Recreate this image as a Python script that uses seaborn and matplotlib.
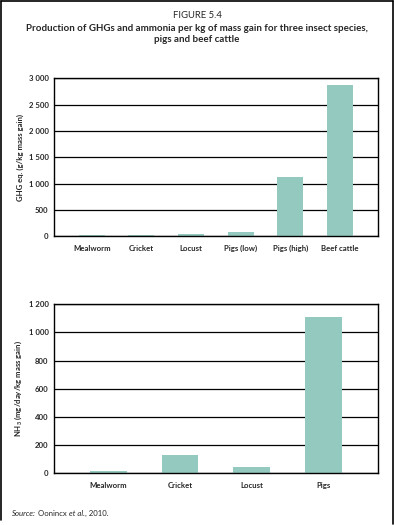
import matplotlib
matplotlib.use("Agg")
import matplotlib.pyplot as plt
import seaborn as sns
import pandas as pd
from matplotlib.ticker import FuncFormatter, MultipleLocator
from matplotlib.lines import Line2D

# Data
ghg_species = ["Mealworm", "Cricket", "Locust", "Pigs (low)", "Pigs (high)", "Beef cattle"]
ghg_values = [25, 25, 50, 85, 1130, 2870]
nh3_species = ["Mealworm", "Cricket", "Locust", "Pigs"]
nh3_values = [18, 130, 45, 1110]

title_line1 = "FIGURE 5.4"
title_line2 = "Production of GHGs and ammonia per kg of mass gain for three insect species,\npigs and beef cattle"
ghg_ylabel = "GHG eq. (g/kg mass gain)"
nh3_ylabel = "NH$_3$ (mg/day/kg mass gain)"

sns.set_style("white")
plt.rcParams["font.family"] = ["Lato", "DejaVu Sans"]
plt.rcParams["font.weight"] = "bold"
plt.rcParams["mathtext.fontset"] = "custom"
plt.rcParams["mathtext.rm"] = "Lato:bold"
plt.rcParams["mathtext.bf"] = "Lato:bold"

BAR = "#93c9bf"

fig = plt.figure(figsize=(3.94, 5.25), dpi=100)
ax1 = fig.add_axes([54 / 394, 1 - 236.3 / 525, (377.7 - 54) / 394, (236.3 - 78.3) / 525])
ax2 = fig.add_axes([54 / 394, 1 - 473.3 / 525, (377.7 - 54) / 394, (473.3 - 304.3) / 525])

fmt = FuncFormatter(lambda v, p: f"{int(v):,}".replace(",", " "))

def style(ax, n, ymax, step, ylabel):
    ax.set_xlim(-0.76, n - 1 + 0.76)
    ax.set_ylim(0, ymax)
    ax.yaxis.set_major_locator(MultipleLocator(step))
    ax.yaxis.set_major_formatter(fmt)
    ax.grid(axis="y", color="black", linewidth=0.9)
    ax.set_axisbelow(True)
    for s in ax.spines.values():
        s.set_color("black")
        s.set_linewidth(1.0)
        s.set_visible(True)
    ax.tick_params(axis="both", length=0, labelsize=5.6, pad=4)
    ax.tick_params(axis="x", pad=6)
    ax.set_xlabel("")
    ax.set_ylabel(ylabel, fontsize=5.6, fontweight="bold", labelpad=3)

df1 = pd.DataFrame({"species": ghg_species, "value": ghg_values})
sns.barplot(data=df1, x="species", y="value", color=BAR, saturation=1, width=0.52,
            linewidth=0, edgecolor=BAR, ax=ax1)
style(ax1, len(ghg_species), 3000, 500, ghg_ylabel)

df2 = pd.DataFrame({"species": nh3_species, "value": nh3_values})
sns.barplot(data=df2, x="species", y="value", color=BAR, saturation=1, width=0.51,
            linewidth=0, edgecolor=BAR, ax=ax2)
style(ax2, len(nh3_species), 1200, 200, nh3_ylabel)

fig.text(0.5, 1 - 15 / 525, title_line1, ha="center", va="center", fontsize=6.8, fontweight="normal")
fig.text(0.5, 1 - 34 / 525, title_line2, ha="center", va="center", fontsize=7.0,
         fontweight="bold", linespacing=1.25)

# Source line with mixed italics
fig.canvas.draw()
r = fig.canvas.get_renderer()
x = 12 / 394
y = 1 - 513 / 525
parts = [("Source:", "italic"), (" Oonincx ", "normal"), ("et al.", "italic"), (", 2010.", "normal")]
for txt, st in parts:
    t = fig.text(x, y, txt, ha="left", va="center", fontsize=5.6, style=st, fontweight="normal")
    bb = t.get_window_extent(renderer=r)
    x += bb.width / fig.bbox.width

# Frame (left, top, right)
fig.add_artist(Line2D([1 / 394, 1 / 394], [1 - 520 / 525, 1 - 0.5 / 525], transform=fig.transFigure, color="black", lw=1.2))
fig.add_artist(Line2D([1 / 394, 393 / 394], [1 - 0.5 / 525, 1 - 0.5 / 525], transform=fig.transFigure, color="black", lw=1.2))
fig.add_artist(Line2D([393 / 394, 393 / 394], [1 - 524 / 525, 1 - 0.5 / 525], transform=fig.transFigure, color="black", lw=1.2))

fig.savefig("out.png", dpi=100)
